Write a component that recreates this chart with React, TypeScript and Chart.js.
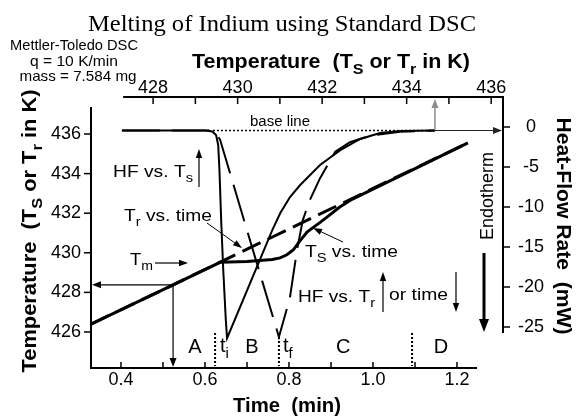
import React, { useEffect, useRef } from 'react';
import { Chart, registerables } from 'chart.js';

Chart.register(...registerables);

const SANS = '"Liberation Sans", Arial, sans-serif';
const SERIF = '"Liberation Serif", "Times New Roman", serif';

// ---------------- Data ----------------
// Sample temperature Ts vs time (min, K)
const tsTime = [0.3286, 0.524, 0.636, 0.70, 0.76, 0.779, 0.795, 0.81, 0.826, 0.843, 0.857, 0.875, 0.895, 0.92, 0.95, 1.226];
const tsTemp = [426.4, 428.38, 429.52, 429.56, 429.66, 429.74, 429.9, 430.14, 430.6, 431.05, 431.27, 431.55, 431.88, 432.3, 432.7, 435.55];
// Reference temperature Tr vs time
const trTime = [0.3286, 0.524, 0.636, 0.80, 1.0, 1.226];
const trTemp = [426.4, 428.38, 429.53, 431.2, 433.25, 435.55];
// Heat flow vs sample temperature Ts (K, mW)
const hfTsTemp = [427.27, 429.23, 429.40, 429.49, 429.54, 429.57, 429.61, 429.66, 429.72, 429.75, 430.82, 431.01, 431.24, 431.48, 431.95, 432.43, 432.90, 433.37, 433.85, 434.67];
const hfTsValue = [-0.44, -0.44, -0.56, -1.0, -2.25, -5.4, -11.6, -17.9, -24.1, -26.4, -12.9, -10.75, -8.75, -7.25, -4.75, -2.9, -1.5, -0.75, -0.5, -0.44];
// Heat flow vs time (= vs Tr)
const hfTime = [0.402, 0.612, 0.624, 0.636, 0.70, 0.776, 0.802, 0.819, 0.833, 0.850, 0.874, 0.910, 0.945, 0.993, 1.064, 1.148];
const hfTimeValue = [-0.44, -0.44, -0.56, -1.6, -12.9, -26.25, -21.4, -15.4, -11.6, -9.1, -6.4, -3.1, -1.9, -1.1, -0.6, -0.44];
// Base line
const baseLineTime = [0.619, 1.148];
const baseLineValue = [-0.44, -0.44];

// Axis ranges
const timeMin = 0.3286, timeMax = 1.3095;
const topTempMin = 426.53, topTempMax = 436.28;
const leftTempMin = 424.18, leftTempMax = 437.87;
const hfMin = -30.125, hfMax = 3.75;

// Ticks
const timeTickLabels = [0.4, 0.6, 0.8, 1.0, 1.2];
const timeMinorTicks = [0.4, 0.5, 0.6, 0.7, 0.8, 0.9, 1.0, 1.1, 1.2];
const topTempTickLabels = [428, 430, 432, 434, 436];
const topTempMinorTicks = [428, 429, 430, 431, 432, 433, 434, 435, 436];
const leftTempTickLabels = [426, 428, 430, 432, 434, 436];
const hfTickLabels = [0, -5, -10, -15, -20, -25];

// Phases
const phaseNames = ['A', 'B', 'C', 'D'];
const phaseLabelTimes = [0.576, 0.712, 0.929, 1.162];
const phaseBoundaryTimes = [0.624, 0.776, 1.093];

// Tm marker point
const tmArrowTime = 0.524;
const tmArrowTemp = 428.38;
// End of peak marker
const peakEndTemp = 434.67;
const peakEndHF = -0.44;

const pts = (xs: number[], ys: number[]) => xs.map((x, i) => ({ x, y: ys[i] }));

type Seg = { t: string; sub?: boolean };

function drawRich(
  ctx: CanvasRenderingContext2D,
  segs: Seg[],
  x: number,
  y: number,
  size: number,
  o: { bold?: boolean; align?: 'left' | 'center'; rotate?: number; width?: number; family?: string; color?: string } = {}
) {
  const { bold = false, align = 'left', rotate = 0, width, family = SANS, color = '#000' } = o;
  const w = bold ? 'bold ' : '';
  const mainF = `${w}${size}px ${family}`;
  const subSize = Math.round(size * 0.75);
  const subF = `${w}${subSize}px ${family}`;
  let total = 0;
  const ws = segs.map((s) => {
    ctx.font = s.sub ? subF : mainF;
    const m = ctx.measureText(s.t).width;
    total += m;
    return m;
  });
  const sx = width ? width / total : 1;
  ctx.save();
  ctx.translate(x, y);
  ctx.rotate(rotate);
  ctx.scale(sx, 1);
  ctx.fillStyle = color;
  ctx.textBaseline = 'alphabetic';
  ctx.textAlign = 'left';
  let cx = align === 'center' ? -total / 2 : 0;
  segs.forEach((s, i) => {
    ctx.font = s.sub ? subF : mainF;
    ctx.fillText(s.t, cx, s.sub ? size * 0.3 : 0);
    cx += ws[i];
  });
  ctx.restore();
}

function arrow(
  ctx: CanvasRenderingContext2D,
  x1: number, y1: number, x2: number, y2: number,
  lw = 1, hl = 8, hw = 3.2, color = '#000'
) {
  const a = Math.atan2(y2 - y1, x2 - x1);
  const bx = x2 - hl * Math.cos(a);
  const by = y2 - hl * Math.sin(a);
  ctx.save();
  ctx.strokeStyle = color;
  ctx.fillStyle = color;
  ctx.lineWidth = lw;
  ctx.beginPath();
  ctx.moveTo(x1, y1);
  ctx.lineTo(bx, by);
  ctx.stroke();
  ctx.beginPath();
  ctx.moveTo(x2, y2);
  ctx.lineTo(bx + hw * Math.sin(a), by - hw * Math.cos(a));
  ctx.lineTo(bx - hw * Math.sin(a), by + hw * Math.cos(a));
  ctx.closePath();
  ctx.fill();
  ctx.restore();
}

function line(ctx: CanvasRenderingContext2D, x1: number, y1: number, x2: number, y2: number) {
  ctx.beginPath();
  ctx.moveTo(x1, y1);
  ctx.lineTo(x2, y2);
  ctx.stroke();
}

const decorPlugin = {
  id: 'decor',
  afterDraw(chart: any) {
    const ctx: CanvasRenderingContext2D = chart.ctx;
    const ca = chart.chartArea;
    const sx = chart.scales.x;
    const sxT = chart.scales.xTop;
    const sy = chart.scales.y;
    const syR = chart.scales.yR;
    ctx.save();
    ctx.strokeStyle = '#000';
    ctx.lineWidth = 2;
    // axis lines
    line(ctx, ca.left, sy.getPixelForValue(437.36), ca.left, ca.bottom);
    line(ctx, ca.left - 1, ca.bottom, sx.getPixelForValue(1.2476), ca.bottom);
    line(ctx, sxT.getPixelForValue(427.29), ca.top, ca.right + 1, ca.top);
    line(ctx, ca.right, ca.top, ca.right, syR.getPixelForValue(-25.75));
    // ticks
    ctx.lineWidth = 1.5;
    timeMinorTicks.forEach((v) => {
      const px = sx.getPixelForValue(v);
      line(ctx, px, ca.bottom, px, ca.bottom - 6);
    });
    topTempMinorTicks.forEach((v) => {
      const px = sxT.getPixelForValue(v);
      line(ctx, px, ca.top, px, ca.top + 7);
    });
    leftTempTickLabels.forEach((v) => {
      const py = sy.getPixelForValue(v);
      line(ctx, ca.left - 7, py, ca.left, py);
    });
    hfTickLabels.forEach((v) => {
      const py = syR.getPixelForValue(v);
      line(ctx, ca.right, py, ca.right + 7, py);
    });
    ctx.restore();

    // Phase boundaries (dotted)
    ctx.save();
    ctx.strokeStyle = '#000';
    ctx.lineWidth = 2;
    ctx.setLineDash([2, 2]);
    phaseBoundaryTimes.forEach((t) => {
      const px = sx.getPixelForValue(t);
      line(ctx, px, ca.bottom - 35, px, ca.bottom - 2);
    });
    ctx.restore();

    // Phase labels
    phaseNames.forEach((n, i) => {
      drawRich(ctx, [{ t: n }], sx.getPixelForValue(phaseLabelTimes[i]), 353, 20, { align: 'center' });
    });
    drawRich(ctx, [{ t: 't' }, { t: 'i', sub: true }], 220, 352, 20);
    drawRich(ctx, [{ t: 't' }, { t: 'f', sub: true }], 283, 352, 20);

    // Tm arrows from the temperature line
    const mx = sx.getPixelForValue(tmArrowTime);
    const my = sy.getPixelForValue(tmArrowTemp);
    arrow(ctx, mx, my, ca.left + 1, my, 1.2, 9, 3.5);
    arrow(ctx, mx, my, mx, ca.bottom - 1, 1.2, 9, 3.5);

    // End of peak arrows
    const ex = sxT.getPixelForValue(peakEndTemp);
    const ey = syR.getPixelForValue(peakEndHF);
    arrow(ctx, ex, ey, ex, ca.top + 2, 1.5, 9, 3.5, '#8c8c8c');
    arrow(ctx, ex, ey, ca.right - 1, ey, 1.2, 9, 3.5, '#222');

    // Title and info
    drawRich(ctx, [{ t: 'Melting of Indium using Standard DSC' }], 282, 31, 24, { align: 'center', family: SERIF, width: 388 });
    drawRich(ctx, [{ t: 'Mettler-Toledo DSC' }], 74, 50, 15, { align: 'center', width: 128 });
    drawRich(ctx, [{ t: 'q = 10 K/min' }], 74, 66, 15, { align: 'center', width: 88 });
    drawRich(ctx, [{ t: 'mass = 7.584 mg' }], 78, 81, 15, { align: 'center', width: 117 });

    // Axis titles
    const tempTitle: Seg[] = [
      { t: 'Temperature  (T' }, { t: 'S', sub: true }, { t: ' or T' }, { t: 'r', sub: true }, { t: ' in K)' },
    ];
    drawRich(ctx, tempTitle, 192, 68, 20, { bold: true, width: 278 });
    drawRich(ctx, tempTitle, 36, 231, 20, { bold: true, width: 283, align: 'center', rotate: -Math.PI / 2 });
    drawRich(ctx, [{ t: 'Heat-Flow Rate  (mW)' }], 557, 226, 20, { bold: true, width: 217, align: 'center', rotate: Math.PI / 2 });
    drawRich(ctx, [{ t: 'Time  (min)' }], 287, 412, 20, { bold: true, width: 108, align: 'center' });

    // Endotherm
    drawRich(ctx, [{ t: 'Endotherm' }], 493, 196, 18, { width: 88, align: 'center', rotate: -Math.PI / 2 });
    arrow(ctx, 484, 253, 484, 332, 3, 13, 5);

    // Annotations
    drawRich(ctx, [{ t: 'base line' }], 250, 126, 14, { width: 60 });
    drawRich(ctx, [{ t: 'HF vs. T' }, { t: 's', sub: true }], 113, 177, 17, { width: 80 });
    arrow(ctx, 199, 187, 199, 149, 1.2, 9, 3.2);
    drawRich(ctx, [{ t: 'T' }, { t: 'r', sub: true }, { t: ' vs. time' }], 124, 221, 17, { width: 88 });
    arrow(ctx, 207, 223, 242, 248, 1, 9, 3.2);
    drawRich(ctx, [{ t: 'T' }, { t: 'm', sub: true }], 130, 265, 17, { width: 23 });
    arrow(ctx, 155, 263, 188, 263, 1.2, 9, 3.2);
    drawRich(ctx, [{ t: 'T' }, { t: 'S', sub: true }, { t: ' vs. time' }], 305, 257, 17, { width: 93 });
    arrow(ctx, 343, 242, 313, 228, 1, 9, 3.2);
    drawRich(ctx, [{ t: 'HF vs. T' }, { t: 'r', sub: true }], 298, 302, 17, { width: 77 });
    arrow(ctx, 383, 312, 383, 272, 1.2, 9, 3.2);
    drawRich(ctx, [{ t: 'or time' }], 389, 300, 17, { width: 59 });
    arrow(ctx, 456, 272, 456, 312, 1.2, 9, 3.2);
  },
};

export default function App() {
  const ref = useRef<HTMLCanvasElement | null>(null);

  useEffect(() => {
    document.body.style.margin = '0';
    const canvas = ref.current;
    if (!canvas) return;
    const tickFont = { family: SANS, size: 18 };
    const chart = new Chart(canvas, {
      type: 'line',
      data: {
        datasets: [
          {
            label: 'Tr vs. time',
            data: pts(trTime, trTemp),
            xAxisID: 'x',
            yAxisID: 'y',
            borderColor: '#000',
            borderWidth: 3,
            borderDash: [20, 8],
            pointRadius: 0,
            tension: 0,
          },
          {
            label: 'Ts vs. time',
            data: pts(tsTime, tsTemp),
            xAxisID: 'x',
            yAxisID: 'y',
            borderColor: '#000',
            borderWidth: 3,
            pointRadius: 0,
            tension: 0,
          },
          {
            label: 'HF vs. Ts',
            data: pts(hfTsTemp, hfTsValue),
            xAxisID: 'xTop',
            yAxisID: 'yR',
            borderColor: '#000',
            borderWidth: 2,
            pointRadius: 0,
            tension: 0,
          },
          {
            label: 'HF vs. time',
            data: pts(hfTime, hfTimeValue),
            xAxisID: 'x',
            yAxisID: 'yR',
            borderColor: '#000',
            borderWidth: 2,
            borderDash: [38, 12],
            pointRadius: 0,
            tension: 0,
          },
          {
            label: 'base line',
            data: pts(baseLineTime, baseLineValue),
            xAxisID: 'x',
            yAxisID: 'yR',
            borderColor: '#000',
            borderWidth: 1.5,
            borderDash: [2, 2],
            pointRadius: 0,
            tension: 0,
          },
        ],
      },
      options: {
        animation: false,
        responsive: false,
        maintainAspectRatio: false,
        events: [],
        layout: { padding: 0 },
        plugins: {
          legend: { display: false },
          title: { display: false },
          tooltip: { enabled: false },
        },
        scales: {
          x: {
            type: 'linear',
            position: 'bottom',
            min: timeMin,
            max: timeMax,
            grid: { display: false, drawTicks: false },
            border: { display: false },
            ticks: {
              font: tickFont,
              color: '#000',
              padding: 1,
              maxRotation: 0,
              autoSkip: false,
              callback: (v: any) => Number(v).toFixed(1),
            },
            afterBuildTicks: (s: any) => {
              s.ticks = timeTickLabels.map((v) => ({ value: v }));
            },
            afterFit: (s: any) => {
              s.height = 49;
            },
          },
          xTop: {
            type: 'linear',
            position: 'top',
            min: topTempMin,
            max: topTempMax,
            grid: { display: false, drawTicks: false },
            border: { display: false },
            ticks: {
              font: tickFont,
              color: '#000',
              padding: -2,
              maxRotation: 0,
              autoSkip: false,
              callback: (v: any) => String(Math.round(Number(v))),
            },
            afterBuildTicks: (s: any) => {
              s.ticks = topTempTickLabels.map((v) => ({ value: v }));
            },
            afterFit: (s: any) => {
              s.height = 97;
            },
          },
          y: {
            type: 'linear',
            position: 'left',
            min: leftTempMin,
            max: leftTempMax,
            grid: { display: false, drawTicks: false },
            border: { display: false },
            ticks: {
              font: tickFont,
              color: '#000',
              padding: 10,
              autoSkip: false,
              callback: (v: any) => String(Math.round(Number(v))),
            },
            afterBuildTicks: (s: any) => {
              s.ticks = leftTempTickLabels.map((v) => ({ value: v }));
            },
            afterFit: (s: any) => {
              s.width = 91;
            },
          },
          yR: {
            type: 'linear',
            position: 'right',
            min: hfMin,
            max: hfMax,
            grid: { display: false, drawTicks: false },
            border: { display: false },
            ticks: {
              font: tickFont,
              color: '#000',
              padding: 15,
              crossAlign: 'center',
              autoSkip: false,
              callback: (v: any) => String(Math.round(Number(v))),
            },
            afterBuildTicks: (s: any) => {
              s.ticks = hfTickLabels.map((v) => ({ value: v }));
            },
            afterFit: (s: any) => {
              s.width = 73;
            },
          },
        },
      } as any,
      plugins: [decorPlugin],
    });
    return () => chart.destroy();
  }, []);

  return (
    <div style={{ width: 576, height: 417, background: '#fff' }}>
      <canvas ref={ref} width={576} height={417} style={{ display: 'block' }} />
    </div>
  );
}
